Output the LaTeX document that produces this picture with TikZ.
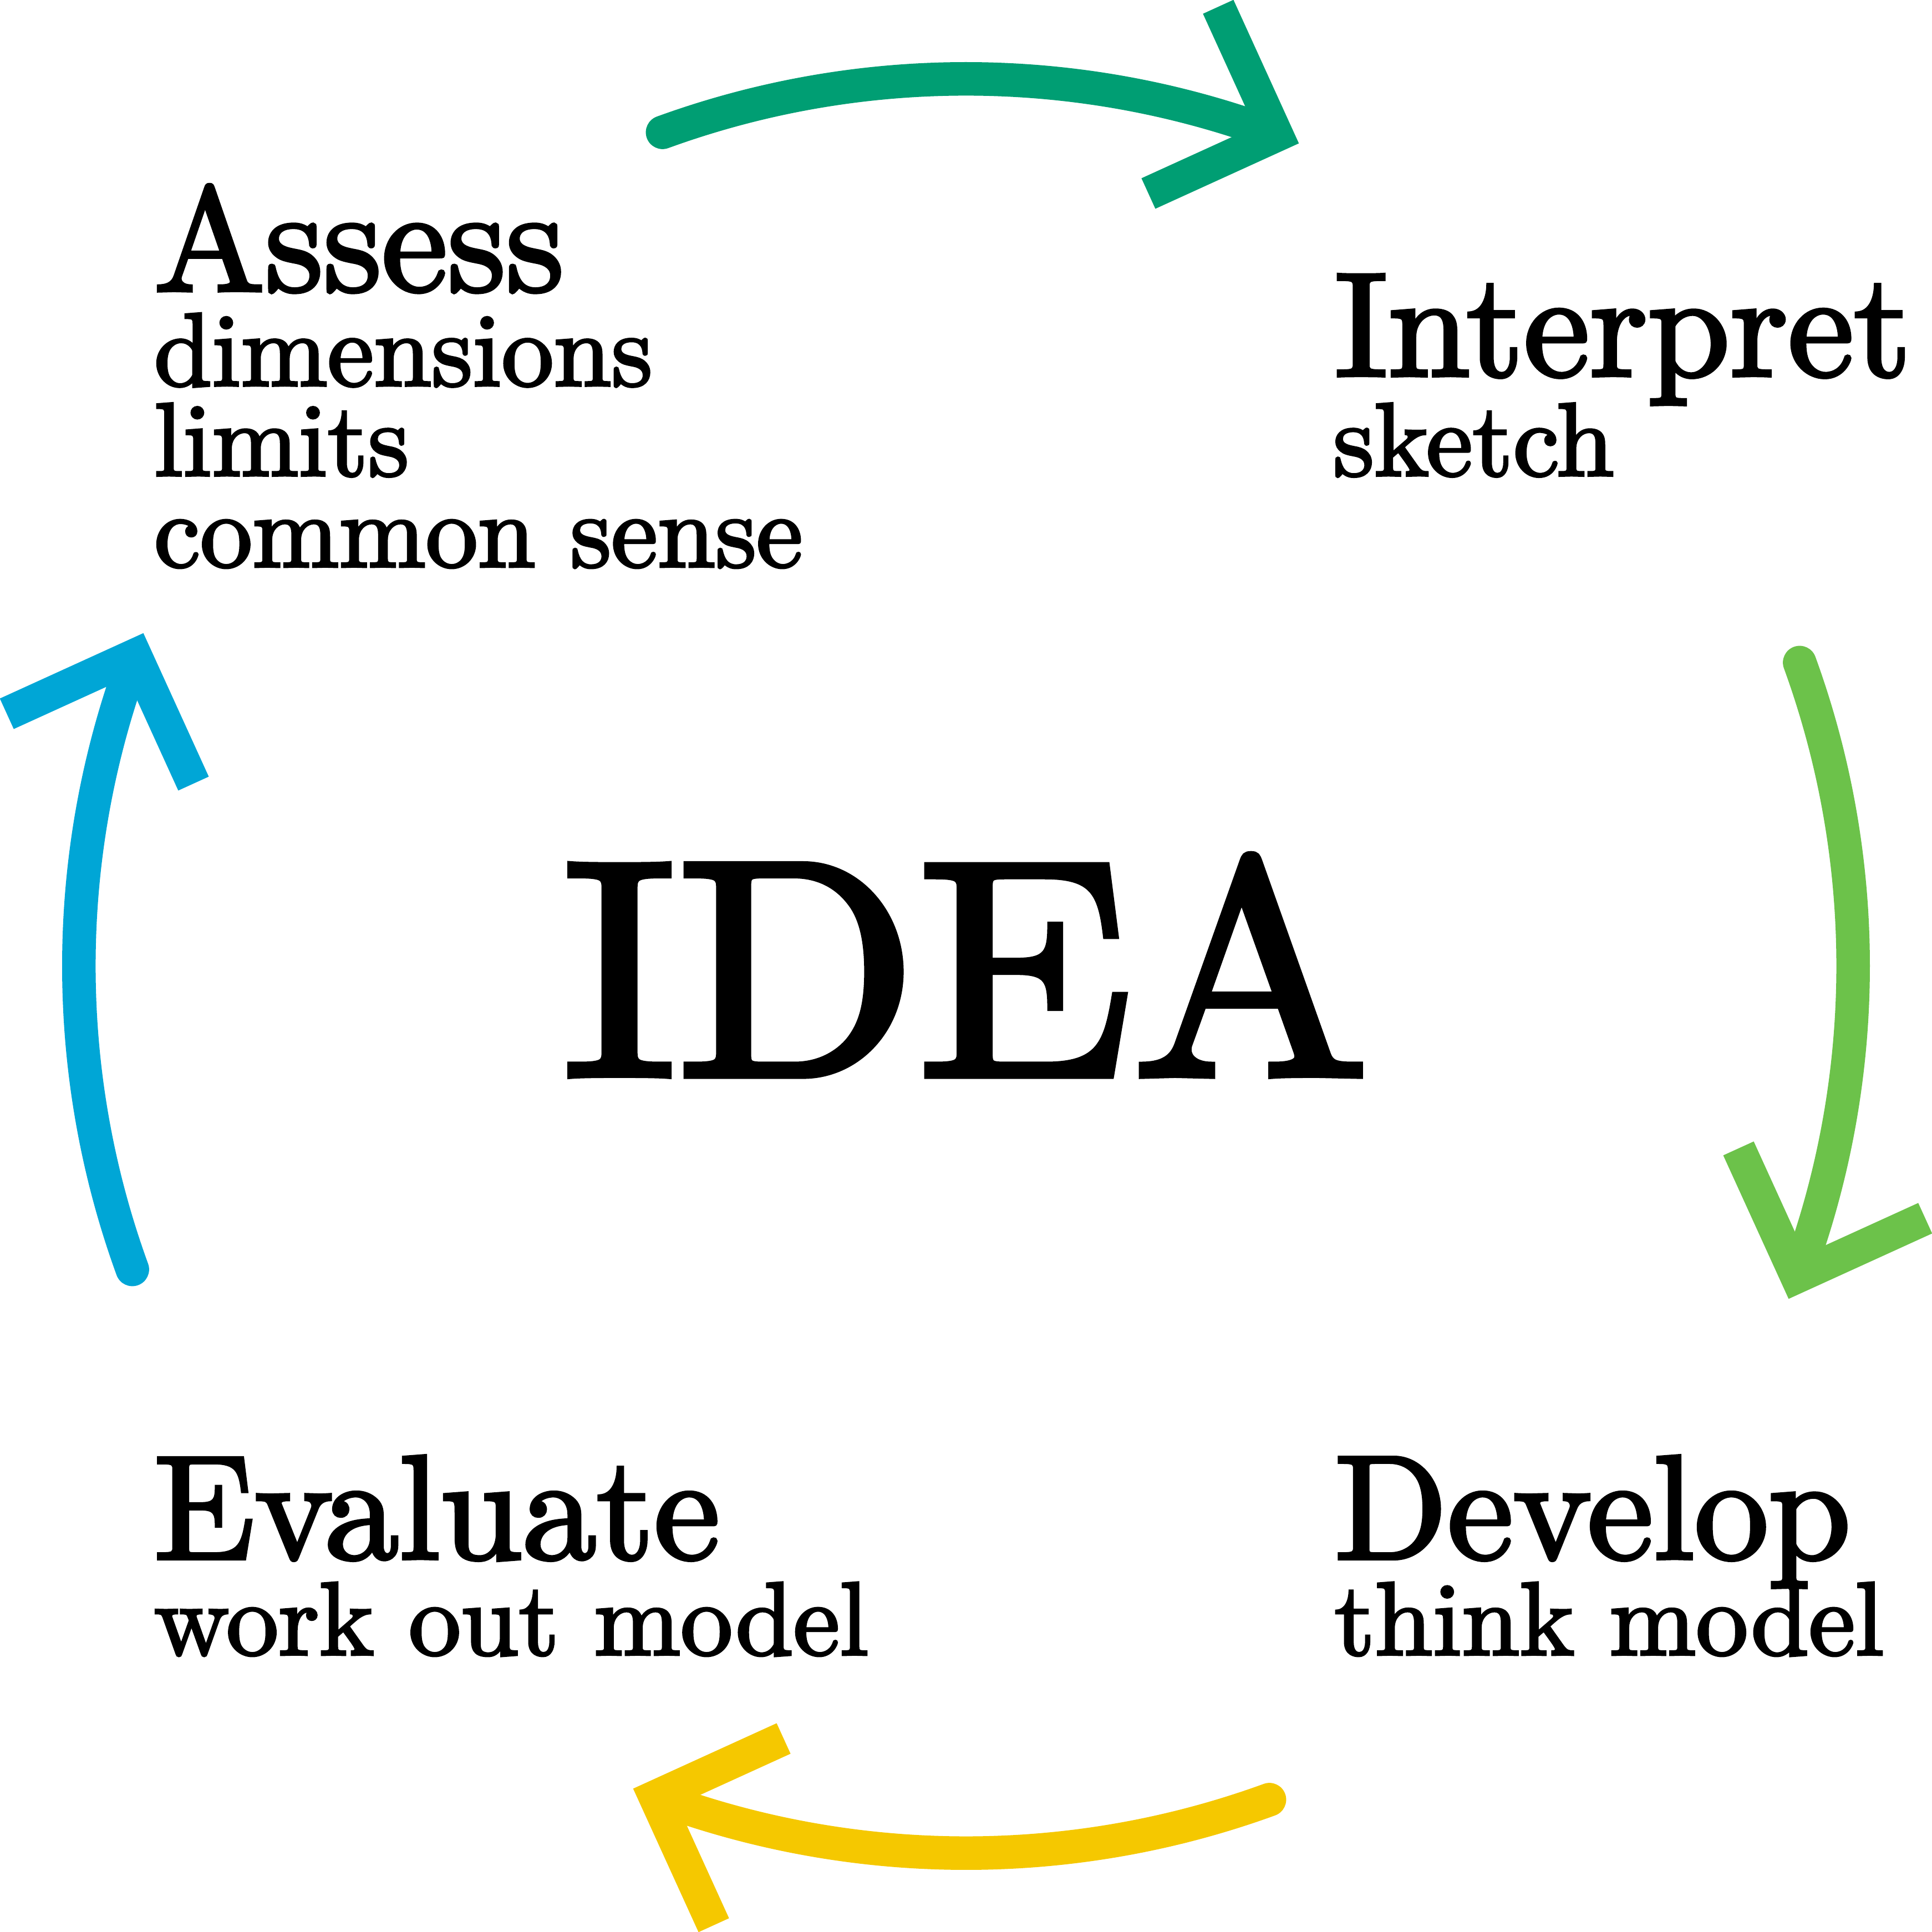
\documentclass[tikz,border=0pt]{standalone}
\usepackage{fontspec}
\usepackage{tikz}

% Latin Modern Roman 10, slightly emboldened
\newfontfamily\labelfont[Ligatures=TeX, FakeBold=2.5]{lmroman10-regular.otf}

\definecolor{cgreen}{HTML}{009E73}
\definecolor{clime}{HTML}{6CC24A}
\definecolor{cyellow}{HTML}{F5C800}
\definecolor{cblue}{HTML}{00A6D6}

\begin{document}
\begin{tikzpicture}[
  cyclearc/.style={line width=0.272cm, line cap=round},
  cyclehead/.style={line width=0.272cm, line cap=butt, line join=miter, miter limit=10},
  basefont/.style={inner sep=0pt, outer sep=0pt, font=\labelfont\fontsize{10}{12}\selectfont, transform shape},
  heading/.style={basefont, anchor=base west, scale=3.42},
  detail/.style={basefont, anchor=base west, scale=2.404},
  centre/.style={basefont, anchor=base, xscale=7.29, yscale=7.1},
]
\useasboundingbox (-7.84,-7.84) rectangle (7.84,7.84);

% four quarter arcs around the centre, each ending in an open chevron
\foreach \col/\rot in {cgreen/0, clime/-90, cyellow/-180, cblue/-270} {
  \begin{scope}[rotate=\rot]
    \coordinate (tip-\col) at (69.5:7.2);
    \draw[cyclearc, \col] (110:7.2) arc[start angle=110, end angle=70.2, radius=7.2];
    \draw[cyclehead, \col] (tip-\col) ++(114.5:1.144) -- (tip-\col) -- ++(204.5:1.144);
  \end{scope}
}

% centre
\node[centre] (idea) at (0,-0.885) {IDEA};

% top left
\node[heading] (assess) at (-6.59,5.48) {Assess};
\node[detail] (assess-a) at (-6.59,4.71) {dimensions};
\node[detail] (assess-b) at (-6.59,3.98) {limits};
\node[detail] (assess-c) at (-6.59,3.24) {common sense};

% top right
\node[heading] (interpret) at (2.99,4.79) {Interpret};
\node[detail] (interpret-a) at (2.98,3.98) {sketch};

% bottom right
\node[heading] (develop) at (2.99,-4.81) {Develop};
\node[detail] (develop-a) at (2.99,-5.59) {think model};

% bottom left
\node[heading] (evaluate) at (-6.59,-4.81) {Evaluate};
\node[detail] (evaluate-a) at (-6.59,-5.59) {work out model};
\end{tikzpicture}
\end{document}
